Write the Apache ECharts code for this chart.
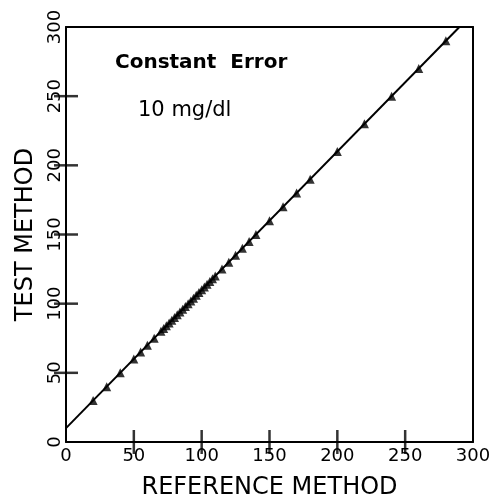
<!DOCTYPE html>
<html lang="en">
<head>
    <meta charset="UTF-8">
    <title>Constant Error</title>
    <script src="https://cdn.jsdelivr.net/npm/echarts/dist/echarts.min.js"></script>
    <style>
        body { margin: 0; background: #fff; }
    </style>
</head>
<body>
    <div id="main" style="width: 492px;height:499px;"></div>

    <script type="text/javascript">
        // values
        var refValues = [20, 30, 40, 50, 55, 60, 65, 70, 72, 74, 76, 78, 80, 82, 84, 86, 88, 90,
            92, 94, 96, 98, 100, 102, 104, 106, 108, 110, 115, 120, 125, 130, 135, 140,
            150, 160, 170, 180, 200, 220, 240, 260, 280];
        var testValues = [30, 40, 50, 60, 65, 70, 75, 80, 82, 84, 86, 88, 90, 92, 94, 96, 98, 100,
            102, 104, 106, 108, 110, 112, 114, 116, 118, 120, 125, 130, 135, 140, 145, 150,
            160, 170, 180, 190, 210, 230, 250, 270, 290];
        // fitted line (y = x + 10)
        var lineRef = [0, 290];
        var lineTest = [10, 300];

        var axisTicks = [0, 50, 100, 150, 200, 250, 300];

        var points = [];
        for (var i = 0; i < refValues.length; i++) {
            points.push([refValues[i], testValues[i]]);
        }
        var line = [];
        for (var j = 0; j < lineRef.length; j++) {
            line.push([lineRef[j], lineTest[j]]);
        }
        // inner tick marks, placed on the axes through the scales
        var xTickMarks = [];
        var yTickMarks = [];
        for (var k = 1; k < axisTicks.length - 1; k++) {
            xTickMarks.push([axisTicks[k], 0]);
            yTickMarks.push([0, axisTicks[k]]);
        }

        var myChart = echarts.init(document.getElementById('main'));
        var axisFont = 'DejaVu Sans';

        function tickLabel(v) {
            return axisTicks.indexOf(v) >= 0 ? String(v) : '';
        }

        // plain frame axis for the top / right sides of the box
        function frameAxis(pos) {
            return {
                type: 'value', position: pos,
                min: 0, max: 300, interval: 50,
                axisLine: { show: true, onZero: false, lineStyle: { color: '#000', width: 2 } },
                axisTick: { show: false },
                axisLabel: { show: false },
                splitLine: { show: false }
            };
        }

        var option = {
            backgroundColor: '#fff',
            animation: false,
            grid: { left: 66, top: 27, right: 19, bottom: 57, outerBoundsMode: 'none', containLabel: false },
            title: [
                {
                    text: 'Constant  Error',
                    left: 115, top: 53, padding: 0,
                    textStyle: { fontFamily: axisFont, fontSize: 20, fontWeight: 'bold', color: '#000' }
                },
                {
                    text: '10 mg/dl',
                    left: 138, top: 100, padding: 0,
                    textStyle: { fontFamily: axisFont, fontSize: 21, fontWeight: 'normal', color: '#000' }
                }
            ],
            xAxis: [
                {
                    type: 'value',
                    position: 'bottom',
                    min: 0, max: 300, interval: 50,
                    name: 'REFERENCE METHOD',
                    nameLocation: 'middle',
                    nameGap: 34,
                    nameTextStyle: { fontFamily: axisFont, fontSize: 24, color: '#000' },
                    axisLine: { show: true, onZero: false, lineStyle: { color: '#000', width: 2 } },
                    axisTick: { show: false },
                    axisLabel: { fontFamily: axisFont, fontSize: 18, color: '#000', margin: 5, formatter: tickLabel },
                    splitLine: { show: false }
                },
                frameAxis('top')
            ],
            yAxis: [
                {
                    type: 'value',
                    position: 'left',
                    min: 0, max: 300, interval: 50,
                    name: 'TEST METHOD',
                    nameLocation: 'middle',
                    nameGap: 28,
                    nameTextStyle: { fontFamily: axisFont, fontSize: 24, color: '#000' },
                    axisLine: { show: true, onZero: false, lineStyle: { color: '#000', width: 2 } },
                    axisTick: { show: false },
                    axisLabel: { fontFamily: axisFont, fontSize: 18, color: '#000', margin: 2, rotate: 90, formatter: tickLabel },
                    splitLine: { show: false }
                },
                frameAxis('right')
            ],
            series: [
                {
                    name: 'fit',
                    type: 'line',
                    data: line,
                    symbol: 'none',
                    lineStyle: { color: '#000', width: 2 }
                },
                {
                    name: 'points',
                    type: 'scatter',
                    data: points,
                    symbol: 'triangle',
                    symbolSize: 9,
                    itemStyle: { color: '#000' }
                },
                {
                    name: 'xTicks',
                    type: 'scatter',
                    data: xTickMarks,
                    symbol: 'rect',
                    symbolSize: [2.5, 24],
                    clip: false,
                    silent: true,
                    z: 5,
                    itemStyle: { color: '#000' }
                },
                {
                    name: 'yTicks',
                    type: 'scatter',
                    data: yTickMarks,
                    symbol: 'rect',
                    symbolSize: [24, 2.5],
                    clip: false,
                    silent: true,
                    z: 5,
                    itemStyle: { color: '#000' }
                }
            ]
        };

        myChart.setOption(option);
    </script>
</body>
</html>
